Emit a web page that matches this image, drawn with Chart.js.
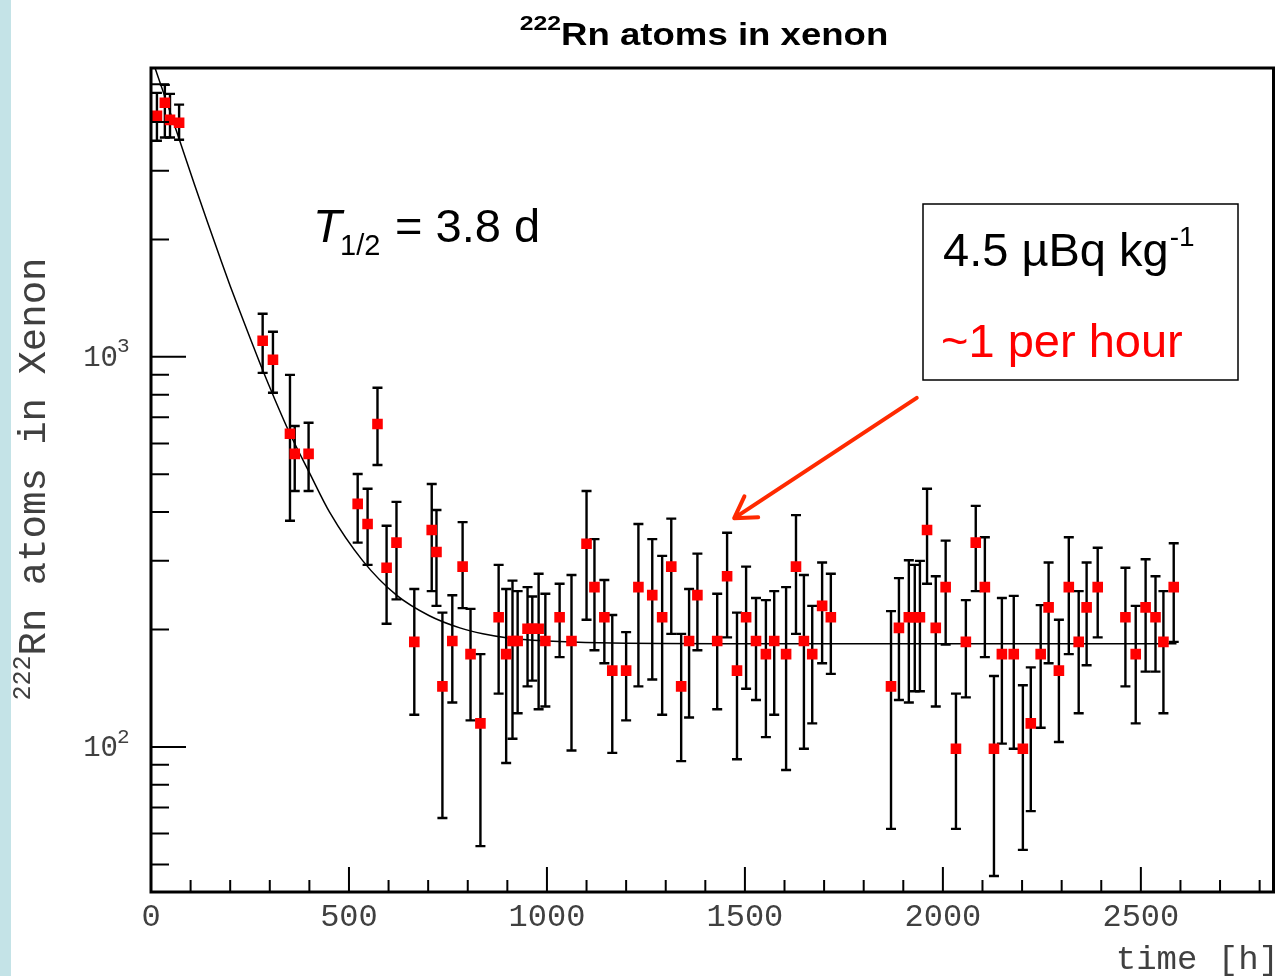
<!DOCTYPE html>
<html>
<head>
<meta charset="utf-8">
<title>222Rn atoms in xenon</title>
<script src="https://cdn.jsdelivr.net/npm/chart.js@4.4.1/dist/chart.umd.min.js"></script>
<style>
  html, body { margin: 0; padding: 0; background: #fff; }
  #wrap { position: relative; width: 1281px; height: 976px; }
</style>
</head>
<body>
<div id="wrap"><canvas id="c" width="1281" height="976"></canvas></div>
<script>
// measured points: time [h], Rn atoms, upper / lower end of the error bar
const times = [15, 35, 48, 71, 282, 308, 351, 363, 398, 522, 547, 572, 595, 620, 665, 709, 721, 736, 761, 787,
  807, 832, 878, 897, 913, 926, 951, 963, 979, 996, 1032, 1062, 1100, 1120, 1145, 1165, 1200, 1231, 1266, 1291,
  1314, 1339, 1359, 1380, 1430, 1455, 1480, 1503, 1528, 1553, 1574, 1604, 1629, 1649, 1670, 1695, 1717,
  1869, 1889, 1914, 1929, 1942, 1960, 1982, 2007, 2033, 2058, 2083, 2106, 2129, 2149, 2179, 2202, 2222,
  2247, 2267, 2293, 2318, 2343, 2363, 2391, 2461, 2487, 2512, 2537, 2557, 2583];
const atoms = [4150, 4480, 4050, 3980, 1100, 983, 635, 564, 564, 420, 373, 673, 288, 334, 186, 360, 316, 143, 187, 290,
  173, 115, 215, 173, 187, 187, 201, 201, 201, 187, 215, 187, 332, 257, 215, 157, 157, 257, 245, 215,
  290, 143, 187, 245, 187, 274, 157, 215, 187, 173, 187, 173, 290, 187, 173, 230, 215,
  143, 202, 215, 215, 215, 360, 202, 257, 99, 186, 334, 257, 99, 173, 173, 99, 115,
  173, 228, 157, 257, 186, 228, 257, 215, 173, 228, 215, 186, 257];
const errHigh = [4750, 4980, 4720, 4430, 1290, 1160, 899, 665, 678, 501, 459, 833, 369, 425, 254, 472, 405, 221, 245, 377,
  226, 173, 293, 254, 267, 251, 257, 243, 278, 247, 262, 276, 453, 341, 268, 218, 197, 373, 341, 309,
  385, 195, 254, 313, 247, 354, 221, 290, 241, 238, 251, 257, 393, 276, 230, 297, 278,
  223, 271, 301, 293, 300, 459, 274, 338, 137, 238, 415, 345, 152, 241, 244, 144, 160,
  231, 297, 212, 345, 251, 297, 324, 288, 230, 303, 274, 251, 333];
const errLow = [3580, 3650, 3650, 3600, 910, 809, 380, 453, 453, 334, 293, 528, 207, 239, 121, 251, 230, 65.8, 130, 227,
  117, 55.7, 137, 91, 105, 122, 143, 148, 125, 127, 170, 98, 212, 177, 164, 96.6, 117, 143, 149, 121,
  195, 92, 119, 177, 125, 191, 93, 141, 132, 106, 121, 87.3, 195, 99, 115, 164, 154,
  61.7, 132, 130, 139, 139, 262, 127, 183, 61.7, 134, 251, 170, 46.7, 102, 99, 54.5, 68.5,
  112, 164, 103, 173, 122, 162, 191, 143, 115, 156, 156, 122, 186];

// fit curve
const fitTimes = [5, 40, 73, 110, 141, 174, 200, 224, 250, 282, 310, 351, 400, 451, 535, 620, 703, 780, 838, 906, 1000, 1132, 1500, 2000, 2590];
const fitAtoms = [5700, 4490, 3570, 2760, 2240, 1800, 1520, 1310, 1120, 925, 790, 635, 505, 400, 300, 245, 217, 202, 195, 190, 187, 185, 184, 184, 184];

// axes
const xMin = 0, xMax = 2835;
const yMin = 42.5, yMax = 5500;
const xMajorTicks = [0, 500, 1000, 1500, 2000, 2500];
const xMajorLabels = ['0', '500', '1000', '1500', '2000', '2500'];
const yMajorTicks = [100, 1000];
const yMajorExp = ['2', '3'];

// arrow from the box down to the plateau (data coordinates)
const arrowFrom = { x: 1934, y: 785 };
const arrowTo = { x: 1473, y: 386 };

const points = times.map((t, i) => ({ x: t, y: atoms[i] }));
const fitLine = fitTimes.map((t, i) => ({ x: t, y: fitAtoms[i] }));

const monoFont = '"Liberation Mono", "DejaVu Sans Mono", monospace';
const sansFont = '"Liberation Sans", Arial, Helvetica, sans-serif';
const labelGrey = '#404040';

const decorPlugin = {
  id: 'decor',
  beforeDraw(chart) {
    const ctx = chart.ctx;
    ctx.save();
    ctx.fillStyle = '#ffffff';
    ctx.fillRect(0, 0, chart.width, chart.height);
    ctx.fillStyle = '#c4e3e7';
    ctx.fillRect(0, 0, 11, chart.height);
    ctx.restore();
  },
  beforeDatasetsDraw(chart) {
    // error bars
    const ctx = chart.ctx;
    const xs = chart.scales.x, ys = chart.scales.y;
    ctx.save();
    ctx.strokeStyle = '#000';
    ctx.lineWidth = 2.4;
    for (let i = 0; i < times.length; i++) {
      const px = xs.getPixelForValue(times[i]);
      const top = ys.getPixelForValue(errHigh[i]);
      const bot = ys.getPixelForValue(errLow[i]);
      ctx.beginPath();
      ctx.moveTo(px, top); ctx.lineTo(px, bot);
      ctx.moveTo(px - 5, top); ctx.lineTo(px + 5, top);
      ctx.moveTo(px - 5, bot); ctx.lineTo(px + 5, bot);
      ctx.stroke();
    }
    ctx.restore();
  },
  afterDraw(chart) {
    const ctx = chart.ctx;
    const a = chart.chartArea;
    const xs = chart.scales.x, ys = chart.scales.y;
    ctx.save();

    // ticks, drawn inside the frame
    ctx.strokeStyle = '#000';
    ctx.lineWidth = 2;
    ctx.beginPath();
    for (let v = 100; v < xMax; v += 100) {
      const px = xs.getPixelForValue(v);
      const len = v % 500 === 0 ? 25 : 12;
      ctx.moveTo(px, a.bottom); ctx.lineTo(px, a.bottom - len);
    }
    for (let dec = 10; dec < yMax; dec *= 10) {
      for (let m = 1; m < 10; m++) {
        const v = dec * m;
        if (v < yMin || v > yMax) continue;
        const py = ys.getPixelForValue(v);
        const len = m === 1 ? 35 : 18;
        ctx.moveTo(a.left, py); ctx.lineTo(a.left + len, py);
      }
    }
    ctx.stroke();

    // frame
    ctx.lineWidth = 3;
    ctx.strokeRect(a.left, a.top, a.right - a.left, a.bottom - a.top);

    // x tick labels
    ctx.fillStyle = labelGrey;
    ctx.font = '32px ' + monoFont;
    ctx.textAlign = 'center';
    ctx.textBaseline = 'middle';
    xMajorTicks.forEach((v, i) => {
      ctx.fillText(xMajorLabels[i], xs.getPixelForValue(v), 918);
    });

    // y tick labels 10^n
    yMajorTicks.forEach((v, i) => {
      const py = ys.getPixelForValue(v);
      ctx.font = '29px ' + monoFont;
      ctx.textAlign = 'right';
      ctx.textBaseline = 'middle';
      ctx.fillText('10', 118, py + 1);
      ctx.font = '21px ' + monoFont;
      ctx.textAlign = 'left';
      ctx.fillText(yMajorExp[i], 117, py - 10);
    });

    // x axis title
    ctx.font = '34px ' + monoFont;
    ctx.textAlign = 'right';
    ctx.textBaseline = 'middle';
    ctx.fillText('time [h]', 1279, 960);

    // y axis title, rotated
    ctx.save();
    ctx.translate(33, 479);
    ctx.rotate(-Math.PI / 2);
    ctx.font = '39px ' + monoFont;
    const mainW = ctx.measureText('Rn atoms in Xenon').width;
    ctx.font = '25px ' + monoFont;
    const supW = ctx.measureText('222').width;
    const startX = -(mainW + supW) / 2;
    ctx.textAlign = 'left';
    ctx.textBaseline = 'middle';
    ctx.fillText('222', startX, -10);
    ctx.font = '39px ' + monoFont;
    ctx.fillText('Rn atoms in Xenon', startX + supW, 2);
    ctx.restore();

    // chart title (stretched horizontally like the original)
    ctx.save();
    ctx.fillStyle = '#000';
    ctx.translate(704, 45);
    ctx.scale(1.18, 1);
    ctx.font = 'bold 31px ' + sansFont;
    const tW = ctx.measureText('Rn atoms in xenon').width;
    ctx.font = 'bold 21px ' + sansFont;
    const sW = ctx.measureText('222').width;
    let x0 = -(tW + sW) / 2;
    ctx.textAlign = 'left';
    ctx.textBaseline = 'alphabetic';
    ctx.fillText('222', x0, -15);
    ctx.font = 'bold 31px ' + sansFont;
    ctx.fillText('Rn atoms in xenon', x0 + sW, 0);
    ctx.restore();

    // half-life label
    ctx.fillStyle = '#000';
    ctx.textAlign = 'left';
    ctx.textBaseline = 'alphabetic';
    ctx.font = 'italic 47px ' + sansFont;
    ctx.fillText('T', 313, 242);
    ctx.font = '29px ' + sansFont;
    ctx.fillText('1/2', 340, 255);
    ctx.font = '47px ' + sansFont;
    ctx.fillText('= 3.8 d', 395, 242);

    // activity box
    ctx.lineWidth = 1.5;
    ctx.strokeStyle = '#000';
    ctx.strokeRect(923, 204, 315, 176);
    ctx.font = '47px ' + sansFont;
    ctx.fillText('4.5 \u00b5Bq kg', 943, 266);
    const kgW = ctx.measureText('4.5 \u00b5Bq kg').width;
    ctx.font = '28px ' + sansFont;
    ctx.fillText('-1', 943 + kgW + 1, 246);
    ctx.fillStyle = '#ff0000';
    ctx.font = '47px ' + sansFont;
    ctx.fillText('~1 per hour', 941, 357);

    // arrow
    const ax0 = xs.getPixelForValue(arrowFrom.x), ay0 = ys.getPixelForValue(arrowFrom.y);
    const ax1 = xs.getPixelForValue(arrowTo.x), ay1 = ys.getPixelForValue(arrowTo.y);
    const ang = Math.atan2(ay1 - ay0, ax1 - ax0);
    ctx.strokeStyle = '#ff2a00';
    ctx.lineWidth = 4;
    ctx.lineCap = 'round';
    ctx.beginPath();
    ctx.moveTo(ax0, ay0); ctx.lineTo(ax1, ay1);
    ctx.moveTo(ax1, ay1);
    ctx.lineTo(ax1 - 24 * Math.cos(ang - 0.55), ay1 - 24 * Math.sin(ang - 0.55));
    ctx.moveTo(ax1, ay1);
    ctx.lineTo(ax1 - 24 * Math.cos(ang + 0.55), ay1 - 24 * Math.sin(ang + 0.55));
    ctx.stroke();

    ctx.restore();
  }
};

new Chart(document.getElementById('c'), {
  type: 'scatter',
  data: {
    datasets: [
      {
        label: '222Rn atoms',
        data: points,
        pointStyle: 'rect',
        pointRadius: 7.5,
        pointBorderWidth: 0,
        backgroundColor: '#ff0000',
        borderColor: '#ff0000'
      },
      {
        type: 'line',
        label: 'fit',
        data: fitLine,
        borderColor: '#000',
        borderWidth: 1.5,
        pointRadius: 0,
        cubicInterpolationMode: 'monotone',
        fill: false
      }
    ]
  },
  options: {
    responsive: false,
    animation: false,
    layout: { padding: { top: 68, right: 6, left: 0, bottom: 0 } },
    scales: {
      x: {
        type: 'linear', min: xMin, max: xMax,
        grid: { display: false }, border: { display: false },
        ticks: { display: false },
        afterFit: s => { s.height = 84; }
      },
      y: {
        type: 'logarithmic', min: yMin, max: yMax,
        grid: { display: false }, border: { display: false },
        ticks: { display: false },
        afterFit: s => { s.width = 151; }
      }
    },
    plugins: { legend: { display: false }, tooltip: { enabled: false } }
  },
  plugins: [decorPlugin]
});
</script>
</body>
</html>
